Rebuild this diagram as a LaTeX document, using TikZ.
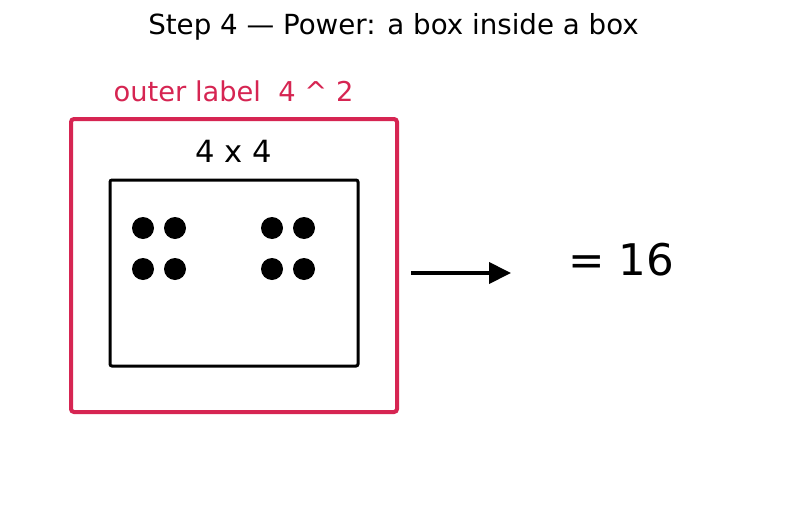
\documentclass[tikz,border=0pt]{standalone}
\usepackage{fontspec}
\setmainfont{DejaVu Sans}
\usetikzlibrary{arrows.meta}
\definecolor{crim}{RGB}{214,37,82}
\tikzset{
  outerbox/.style={draw=crim, line width=4pt, rounded corners=3pt},
  innerbox/.style={draw=black, line width=3pt, rounded corners=2pt},
  dot/.style={circle, fill=black, inner sep=0pt, minimum size=22pt},
  lbl/.style={inner sep=0pt, anchor=center},
}
\begin{document}
\begin{tikzpicture}[x=1pt,y=-1pt]
\useasboundingbox[fill=white] (0,0) rectangle (787,514);
\node[lbl, font=\fontsize{27.7}{32}\selectfont] (title) at (393.5,27) {Step 4 — Power: a box inside a box};
\node[lbl, text=crim, font=\fontsize{27.3}{32}\selectfont] (outerlbl) at (233.5,91) {outer label\ \ 4 \^{} 2};
\draw[outerbox] (71,119) rectangle (397,412);
\node[lbl, font=\fontsize{30.6}{36}\selectfont] (inlbl) at (233.5,151) {4 x 4};
\draw[innerbox] (110,180) rectangle (358,366);
\foreach \x/\y [count=\i] in {143/228,175/228,143/269,175/269,272/228,304/228,272/269,304/269}
  \node[dot] (d\i) at (\x,\y) {};
\coordinate (a1) at (411,273);
\coordinate (a2) at (511,273);
\draw[line width=4pt, -{Triangle[length=22pt,width=21pt]}] (a1) -- (a2);
\node[lbl, font=\fontsize{43.6}{50}\selectfont] (res) at (621.5,259.5) {= 16};
\end{tikzpicture}
\end{document}
